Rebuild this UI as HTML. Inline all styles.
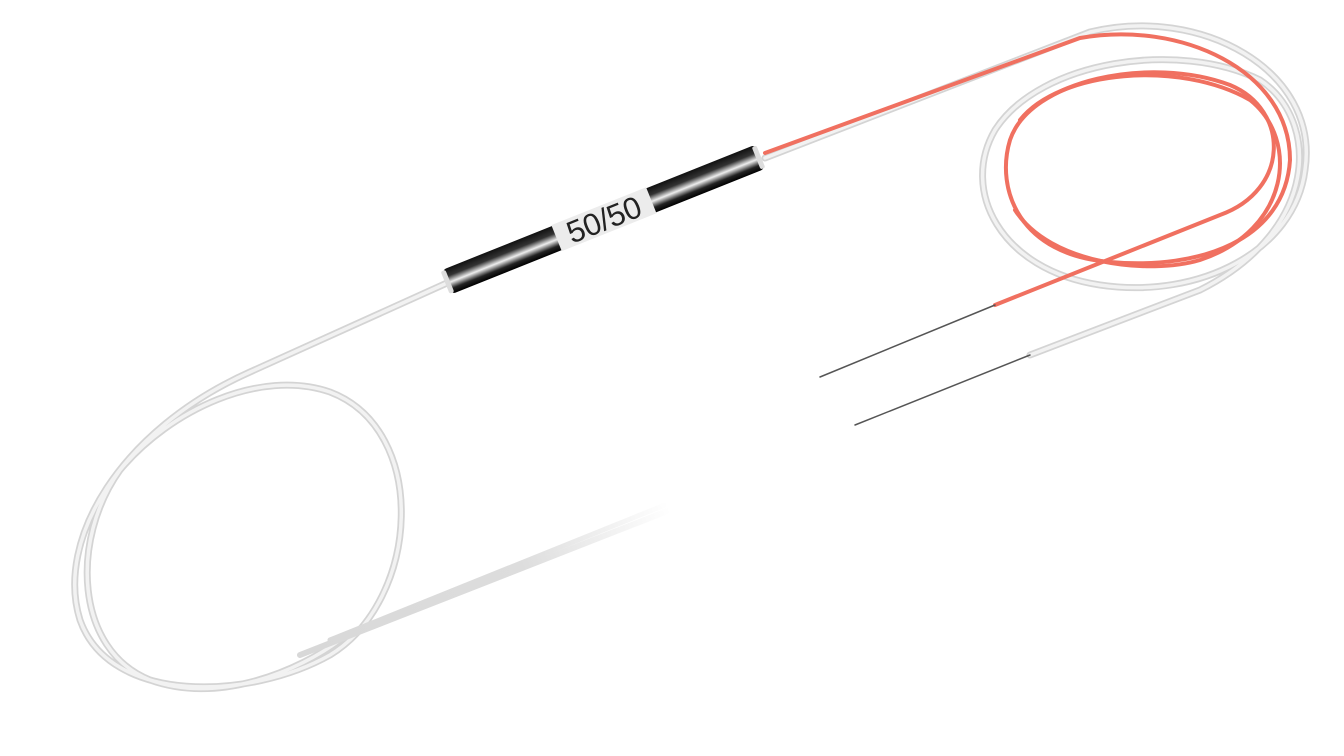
<!DOCTYPE html>
<html><head><meta charset="utf-8"><style>html,body{margin:0;padding:0;background:#fff;width:1344px;height:756px;overflow:hidden}</style></head>
<body>
<svg width="1344" height="756" viewBox="0 0 1344 756" xmlns="http://www.w3.org/2000/svg">
<defs>
<linearGradient id="cyl" x1="0" y1="0" x2="0" y2="1">
<stop offset="0" stop-color="#111"/><stop offset="0.3" stop-color="#333"/><stop offset="0.55" stop-color="#eee"/><stop offset="0.8" stop-color="#222"/><stop offset="1" stop-color="#000"/>
</linearGradient>
<linearGradient id="fade" x1="300" y1="650" x2="670" y2="510" gradientUnits="userSpaceOnUse">
<stop offset="0" stop-color="#d8d8d8"/><stop offset="0.6" stop-color="#ddd"/><stop offset="1" stop-color="#fff"/>
</linearGradient>
</defs>
<g fill="none" stroke-linecap="round">
<g stroke="#d4d4d4" stroke-width="7">
<path d="M447,283 L250,372 C120,430 55,540 80,620 C110,705 250,700 330,655 C420,600 430,430 330,392 C260,368 170,410 120,470 C70,540 75,650 150,680 C220,705 300,670 340,640"/>
</g>
<g stroke="#f2f2f2" stroke-width="3.5">
<path d="M447,283 L250,372 C120,430 55,540 80,620 C110,705 250,700 330,655 C420,600 430,430 330,392 C260,368 170,410 120,470 C70,540 75,650 150,680 C220,705 300,670 340,640"/>
</g>
<path d="M300,655 L670,510" stroke="url(#fade)" stroke-width="6"/>
<path d="M330,640 L665,505" stroke="url(#fade)" stroke-width="5"/>
<g stroke="#d4d4d4" stroke-width="7">
<path d="M765,158 L1090,32 C1200,5 1320,70 1305,170 C1295,250 1200,300 1100,285 C1000,270 960,190 995,130 C1040,60 1180,40 1260,80 C1320,120 1320,230 1200,290 L1030,355"/>
</g>
<g stroke="#f2f2f2" stroke-width="3.5">
<path d="M765,158 L1090,32 C1200,5 1320,70 1305,170 C1295,250 1200,300 1100,285 C1000,270 960,190 995,130 C1040,60 1180,40 1260,80 C1320,120 1320,230 1200,290 L1030,355"/>
</g>
<g stroke="#f07060" stroke-width="4">
<path d="M765,153 L1080,38 C1180,20 1290,70 1290,160 C1285,240 1200,270 1110,262 C1020,255 995,190 1010,140 C1030,80 1150,55 1230,85 C1290,110 1290,190 1220,215 L995,305"/>
<path d="M1020,120 C1060,70 1180,60 1250,100 C1300,140 1290,230 1200,260 C1150,275 1050,265 1015,210"/>
</g>
<path d="M995,305 L820,377" stroke="#555" stroke-width="1.5"/>
<path d="M1030,355 L855,425" stroke="#555" stroke-width="1.5"/>
</g>
<g transform="translate(447,282) rotate(-21.8)">
<rect x="0" y="-13" width="337" height="26" rx="4" fill="url(#cyl)"/>
<rect x="-2" y="-12" width="5" height="24" rx="2" fill="#ddd"/>
<rect x="333" y="-12" width="5" height="24" rx="2" fill="#ddd"/>
<rect x="118" y="-14" width="102" height="28" fill="#ececec"/>
<text x="169" y="11" text-anchor="middle" font-family="Liberation Sans, sans-serif" font-size="31" fill="#222">50/50</text>
</g>
</svg>
</body></html>
